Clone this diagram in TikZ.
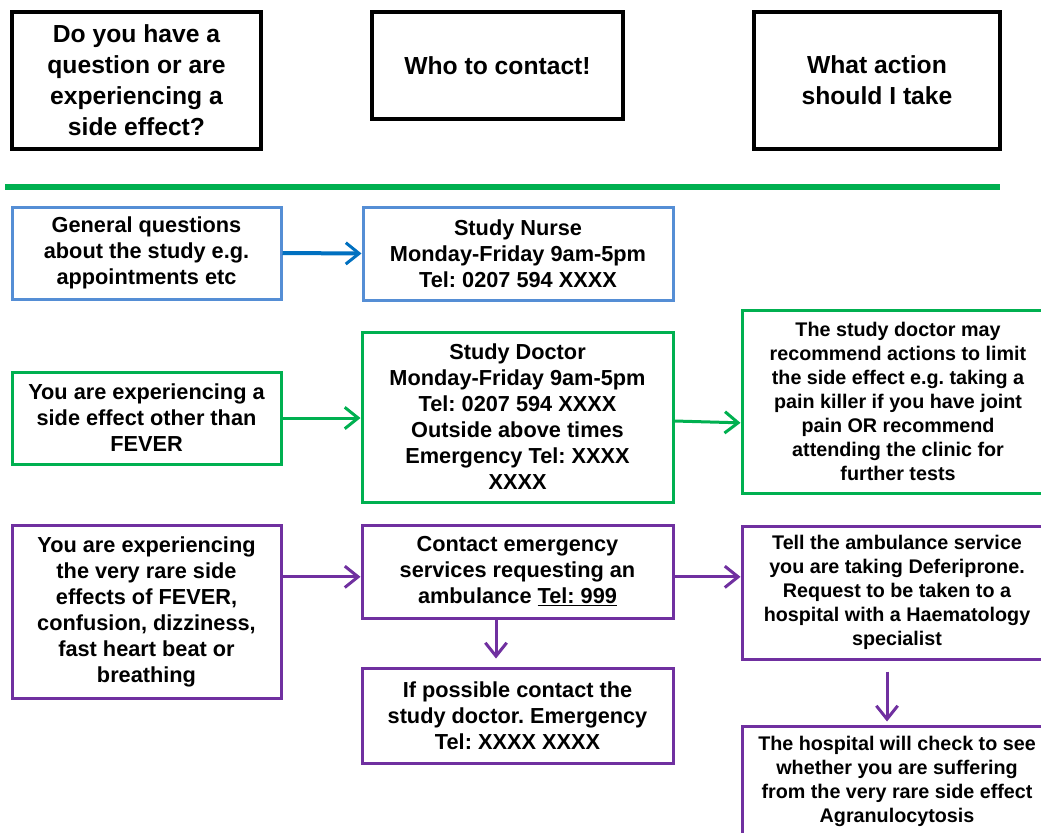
\documentclass[tikz,border=0pt]{standalone}
\usepackage{fontspec}
\setmainfont{Liberation Sans}
\frenchspacing
\usetikzlibrary{arrows.meta,calc}
\definecolor{bluebox}{RGB}{85,142,213}
\definecolor{bluearrow}{RGB}{0,112,192}
\definecolor{grn}{RGB}{0,176,80}
\definecolor{purp}{RGB}{112,48,160}
\tikzset{
  sz/.style 2 args={minimum width=#1*0.75pt, minimum height=#2*0.75pt},
  box/.style={draw, line width=2.25pt, align=center, inner sep=0pt, fill=white, text=black},
  topbox/.style={box, draw=black, line width=3pt, font=\bfseries\fontsize{18.5}{23.2}\selectfont},
  mainbox/.style={box, font=\bfseries\fontsize{16.3}{19.5}\selectfont},
  smallbox/.style={box, font=\bfseries\fontsize{14.8}{18}\selectfont},
  arr/.style={line width=2.25pt, -{Straight Barb[length=10pt,width=16pt,line width=2.25pt]}},
}
\begin{document}
\begin{tikzpicture}[x=0.75pt,y=-0.75pt]
\useasboundingbox (0,0) rectangle (1041,832);
\clip (0,0) rectangle (1041,832);
\fill[white] (0,0) rectangle (1041,832);

% header boxes
\node[topbox, sz={249}{137}] (t1) at (136.5,80.5) {Do you have a\\question or are\\experiencing a\\side effect?};
\node[topbox, sz={251}{107}] (t2) at (497.5,65.5) {Who to contact!};
\node[topbox, sz={246}{137}] (t3) at (877,80.5) {What action\\should I take};
\coordinate (l1) at (5,187);
\coordinate (l2) at (1000,187);
\draw[grn, line width=4.5pt] (l1) -- (l2);

% row 1 (blue)
\node[mainbox, draw=bluebox, sz={269}{92}] (A) at (146.5,253) {General questions\\about the study e.g.\\appointments etc};
\node[mainbox, draw=bluebox, sz={310}{93}] (B) at (518,253.5) {Study Nurse\\Monday-Friday 9am-5pm\\Tel: 0207 594 XXXX};
\draw[arr, bluearrow, line width=3pt] (A.east) -- (B.west);

% row 2 (green)
\node[mainbox, draw=grn, sz={269}{92}] (C) at (146.5,418) {You are experiencing a\\side effect other than\\FEVER};
\node[mainbox, draw=grn, sz={311}{170}] (D) at (517.5,417) {Study Doctor\\Monday-Friday 9am-5pm\\Tel: 0207 594 XXXX\\Outside above times\\Emergency Tel: XXXX\\XXXX};
\node[smallbox, draw=grn, sz={312}{183}] (E) at (898,401.5) {The study doctor may\\recommend actions to limit\\the side effect e.g. taking a\\pain killer if you have joint\\pain OR recommend\\attending the clinic for\\further tests};
\draw[arr, grn] (C.east) -- (C.east -| D.west);
\draw[arr, grn] ([yshift=-3pt]D.east) -- ([yshift=-16pt]E.west);

% row 3 (purple)
\node[mainbox, draw=purp, sz={269}{173}] (F) at (146.5,611.5) {You are experiencing\\the very rare side\\effects of FEVER,\\confusion, dizziness,\\fast heart beat or\\breathing};
\node[mainbox, draw=purp, sz={311}{93}] (G) at (517.5,571.5) {Contact emergency\\services requesting an\\ambulance \underline{Tel: 999}};
\node[smallbox, draw=purp, sz={310}{133}] (H) at (897,592.5) {Tell the ambulance service\\you are taking Deferiprone.\\Request to be taken to a\\hospital with a Haematology\\specialist};
\node[mainbox, draw=purp, sz={311}{95}] (I) at (517.5,715.5) {If possible contact the\\study doctor. Emergency\\Tel: XXXX XXXX};
\node[smallbox, draw=purp, sz={310}{110}] (J) at (897,781) {The hospital will check to see\\whether you are suffering\\from the very rare side effect\\Agranulocytosis};

\coordinate (g1) at ([yshift=-4pt]G.west);
\draw[arr, purp] (g1 -| F.east) -- (g1);
\draw[arr, purp] ([yshift=-4pt]G.east) -- ([yshift=-4pt]G.east -| H.west);
\coordinate (gi) at ($(G.south)+(-21.5,39)$);
\draw[arr, purp] (gi |- G.south) -- (gi);
\coordinate (hj1) at ($(H.south)+(-10,11)$);
\coordinate (hj2) at ($(H.south)+(-10,61)$);
\draw[arr, purp] (hj1) -- (hj2);
\end{tikzpicture}
\end{document}
